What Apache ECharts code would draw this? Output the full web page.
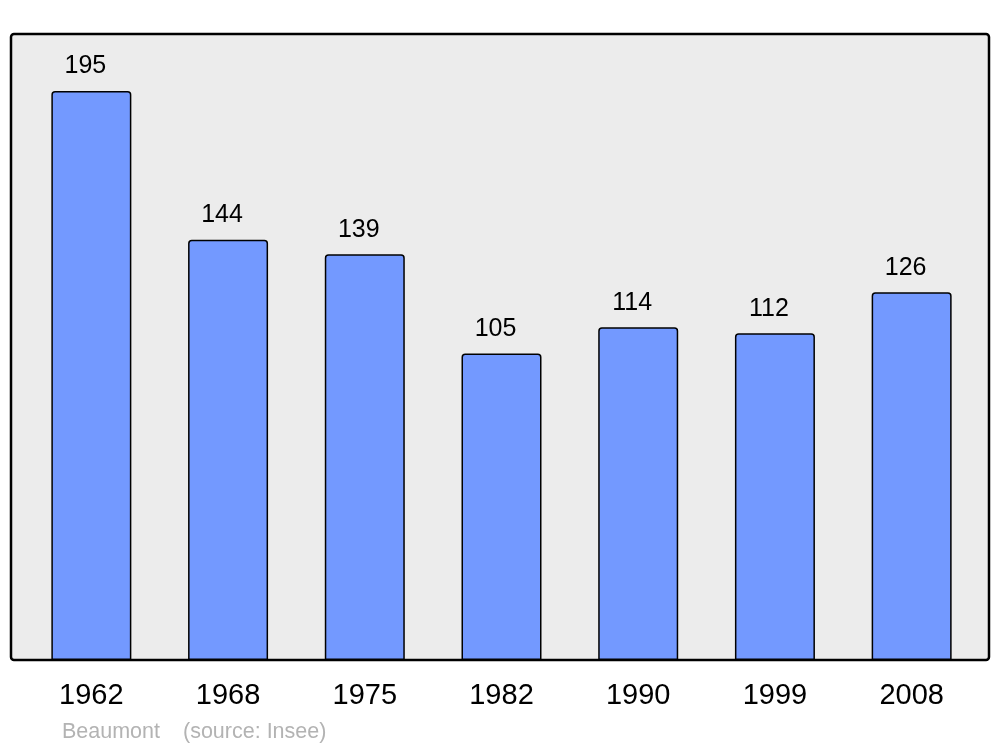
<!DOCTYPE html>
<html>
<head>
<meta charset="utf-8">
<script src="https://cdn.jsdelivr.net/npm/echarts@6/dist/echarts.min.js"></script>
<style>
html,body{margin:0;padding:0;background:#fff;}
#chart{width:1000px;height:747px;}
</style>
</head>
<body>
<div id="chart"></div>
<script>
const years = ['1962', '1968', '1975', '1982', '1990', '1999', '2008'];
const population = [195, 144, 139, 105, 114, 112, 126];
const placeName = 'Beaumont';
const sourceText = '(source: Insee)';

const chart = echarts.init(document.getElementById('chart'), null, {renderer: 'canvas'});
const FONT = '"Liberation Sans", Arial, sans-serif';

chart.setOption({
  animation: false,
  backgroundColor: '#ffffff',
  textStyle: {fontFamily: FONT},
  grid: {left: 23, width: 957, top: 34, height: 626, containLabel: false},
  graphic: [
    {
      type: 'rect', z: -10, silent: true,
      shape: {x: 11, y: 34, width: 978, height: 626, r: 3},
      style: {fill: '#ececec', stroke: '#000000', lineWidth: 2.5}
    },
    {
      type: 'text', left: 62, top: 721, silent: true,
      style: {text: placeName, fill: '#b3b3b3', font: '21.5px ' + FONT}
    },
    {
      type: 'text', left: 183, top: 721, silent: true,
      style: {text: sourceText, fill: '#b3b3b3', font: '21.5px ' + FONT}
    }
  ],
  xAxis: {
    type: 'category',
    data: years,
    boundaryGap: true,
    axisLine: {show: false},
    axisTick: {show: false},
    splitLine: {show: false},
    axisLabel: {fontSize: 29, color: '#000', margin: 21, fontFamily: FONT}
  },
  yAxis: {
    type: 'value',
    min: 0,
    max: 214.5,
    show: false,
    splitLine: {show: false}
  },
  series: [{
    type: 'bar',
    data: population,
    barWidth: 80,
    itemStyle: {
      color: '#7399ff',
      borderColor: '#000000',
      borderWidth: 1.5,
      borderRadius: [3, 3, 0, 0]
    },
    label: {
      show: true,
      position: 'top',
      distance: 12,
      offset: [-6, 0],
      fontSize: 25,
      color: '#000',
      fontFamily: FONT
    }
  }]
});
</script>
</body>
</html>
